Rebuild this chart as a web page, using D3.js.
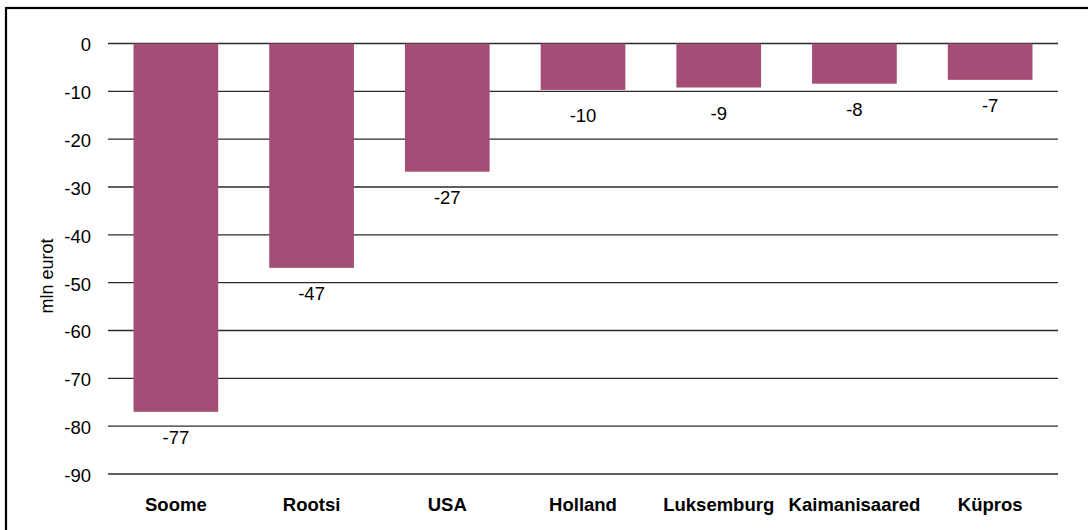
<!DOCTYPE html>
<html>
<head>
<meta charset="utf-8">
<script src="https://cdn.jsdelivr.net/npm/d3@7/dist/d3.min.js"></script>
<style>
  html, body { margin: 0; padding: 0; background: #fff; }
  svg { display: block; font-family: "Liberation Sans", Arial, Helvetica, sans-serif; }
</style>
</head>
<body>
<svg id="chart" width="1088" height="530"></svg>
<script>
const categories = ["Soome", "Rootsi", "USA", "Holland", "Luksemburg", "Kaimanisaared", "Küpros"];
const values = [-77, -46.9, -26.8, -9.7, -9.2, -8.4, -7.6];
const valueLabels = ["-77", "-47", "-27", "-10", "-9", "-8", "-7"];
const yTicks = [0, -10, -20, -30, -40, -50, -60, -70, -80, -90];
const yTitle = "mln eurot";

const svg = d3.select("#chart");
const plot = { left: 108, right: 1058, top: 43.5, bottom: 474 };

// outer frame (only top & left edges fall inside the picture)
svg.append("rect")
  .attr("x", 6).attr("y", 8)
  .attr("width", 1200).attr("height", 600)
  .attr("fill", "none").attr("stroke", "#000").attr("stroke-width", 2.2);

const x = d3.scaleBand()
  .domain(categories)
  .range([plot.left, plot.right])
  .paddingInner(0.376)
  .paddingOuter(0.188);

const y = d3.scaleLinear()
  .domain([-90, 0])
  .range([plot.bottom, plot.top]);

// gridlines
svg.append("g")
  .selectAll("line")
  .data(yTicks)
  .join("line")
  .attr("x1", plot.left).attr("x2", plot.right)
  .attr("y1", d => y(d)).attr("y2", d => y(d))
  .attr("stroke", "#2a2a2a").attr("stroke-width", 1.4);

// y axis labels
const yAxis = d3.axisLeft(y).tickValues(yTicks).tickSize(0).tickPadding(0).tickFormat(d => String(d));
const gy = svg.append("g").attr("transform", `translate(91,0)`).call(yAxis);
gy.select(".domain").remove();
gy.selectAll("text")
  .attr("font-size", "18.5px")
  .attr("fill", "#000")
  .attr("font-family", "Liberation Sans, Arial, sans-serif")
  .attr("dy", "0.4em");

// y title
svg.append("text")
  .attr("transform", `translate(53,276) rotate(-90)`)
  .attr("text-anchor", "middle")
  .attr("font-size", "18px")
  .attr("fill", "#000")
  .text(yTitle);

// bars
svg.append("g")
  .selectAll("rect")
  .data(categories)
  .join("rect")
  .attr("x", d => x(d))
  .attr("width", x.bandwidth())
  .attr("y", (d, i) => y(Math.max(0, values[i])))
  .attr("height", (d, i) => Math.abs(y(values[i]) - y(0)))
  .attr("fill", "#a34c75");

// value labels
svg.append("g")
  .selectAll("text")
  .data(categories)
  .join("text")
  .attr("x", d => x(d) + x.bandwidth() / 2)
  .attr("y", (d, i) => y(values[i]) + 32)
  .attr("text-anchor", "middle")
  .attr("font-size", "18.5px")
  .attr("fill", "#000")
  .text((d, i) => valueLabels[i]);

// category labels
const xAxis = d3.axisBottom(x).tickSize(0).tickPadding(0);
const gx = svg.append("g").attr("transform", `translate(0,511)`).call(xAxis);
gx.select(".domain").remove();
gx.selectAll("text")
  .attr("dy", 0)
  .attr("y", 0)
  .attr("font-size", "18.5px")
  .attr("font-weight", "bold")
  .attr("fill", "#000")
  .attr("font-family", "Liberation Sans, Arial, sans-serif");
</script>
</body>
</html>
